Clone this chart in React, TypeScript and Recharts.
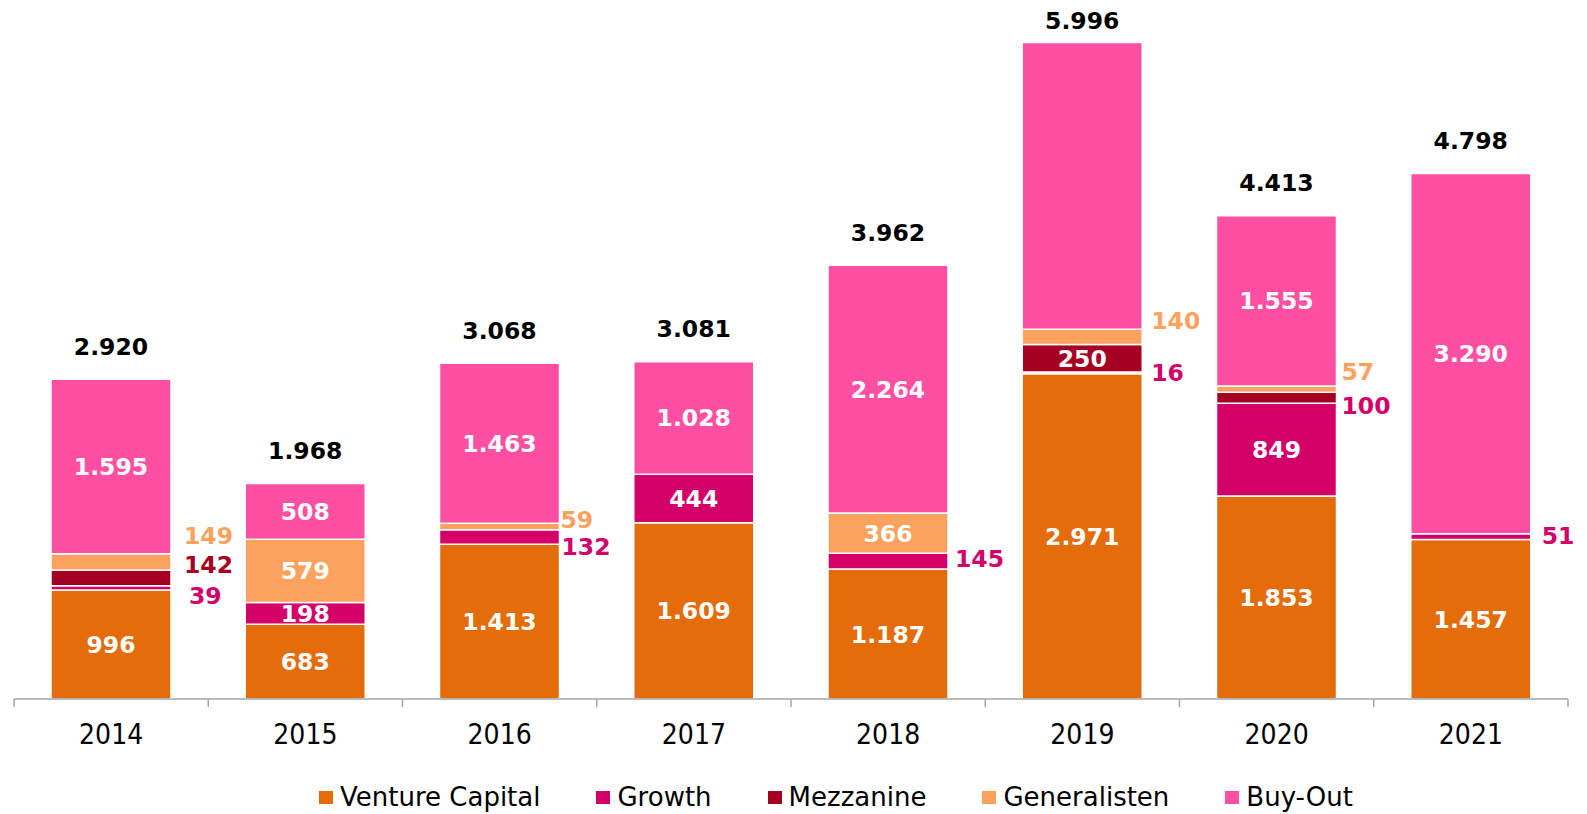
import React from 'react';
import { BarChart, Bar, XAxis, YAxis, LabelList, Legend } from 'recharts';

// ---------- data ----------
const years = ['2014', '2015', '2016', '2017', '2018', '2019', '2020', '2021'];
const ventureCapital = [996, 683, 1413, 1609, 1187, 2971, 1853, 1457];
const growth = [39, 198, 132, 444, 145, 16, 849, 51];
const mezzanine = [142, 0, 0, 0, 0, 250, 100, 0];
const generalisten = [149, 579, 59, 0, 366, 140, 57, 0];
const buyOut = [1595, 508, 1463, 1028, 2264, 2619, 1555, 3290];
const totals = [2920, 1968, 3068, 3081, 3962, 5996, 4413, 4798];

const seriesKeys = ['vc', 'growth', 'mezz', 'gen', 'bo'];
const seriesNames = ['Venture Capital', 'Growth', 'Mezzanine', 'Generalisten', 'Buy-Out'];
const seriesColors = ['#E46C0A', '#D4006A', '#A50021', '#FBA35E', '#FF4FA3'];
const seriesValues = [ventureCapital, growth, mezzanine, generalisten, buyOut];

// labels not shown in the original
const hiddenLabels = ['bo-2019'];
// label colour differing from its series colour in the original
const labelColorOverride: Record<string, string> = { 'mezz-2020': '#D4006A' };

// ---------- layout / style ----------
const W = 1587;
const H = 814;
const MARGIN = { top: 42, right: 19, left: 14, bottom: 15 };
const BAND = (W - MARGIN.left - MARGIN.right) / years.length;
const INSIDE_MIN = 190;
const LABEL_FONT = 23.5;
const FONT = 'DejaVu Sans';

// nudges for labels placed beside the bar: [dx from bar right edge, dy from segment centre]
const outsideNudge: Record<string, [number, number]> = {
  'growth-2014': [18, 8],
  'mezz-2014': [13, -13],
  'gen-2014': [13, -27],
  'growth-2016': [2, 9],
  'gen-2016': [1, -7],
  'growth-2018': [7, -3],
  'gen-2019': [9, -16],
  'growth-2019': [9, 0],
  'gen-2020': [5, -18],
  'mezz-2020': [5, 8],
  'growth-2021': [11, -1],
};

const data = years.map((year, i) => {
  const row: Record<string, any> = { year };
  seriesKeys.forEach((k, s) => {
    row[k] = seriesValues[s][i];
  });
  return row;
});

function fmt(n: number): string {
  if (n >= 1000) {
    const t = Math.floor(n / 1000);
    const r = n % 1000;
    return `${t}.${String(r).padStart(3, '0')}`;
  }
  return String(n);
}

function getBox(props: any) {
  const vb = props.viewBox || {};
  const x = vb.x ?? props.x;
  const y = vb.y ?? props.y;
  const w = vb.width ?? props.width;
  const h = vb.height ?? props.height;
  const top = Math.min(y, y + h);
  return { x: Math.min(x, x + w), top, w: Math.abs(w), h: Math.abs(h) };
}

// category index from the bar's horizontal position
function getIndex(box: { x: number; w: number }) {
  const cx = box.x + box.w / 2;
  return Math.max(0, Math.min(years.length - 1, Math.floor((cx - MARGIN.left) / BAND)));
}

const makeSegmentLabel = (s: number) => (props: any) => {
  const box = getBox(props);
  const i = getIndex(box);
  const v = seriesValues[s][i];
  const key = `${seriesKeys[s]}-${years[i]}`;
  if (!v || hiddenLabels.includes(key)) return null;
  const cy = box.top + box.h / 2;
  if (v >= INSIDE_MIN) {
    return (
      <text
        x={box.x + box.w / 2}
        y={cy + 0.365 * LABEL_FONT}
        textAnchor="middle"
        fill="#ffffff"
        fontFamily={FONT}
        fontWeight="bold"
        fontSize={LABEL_FONT}
      >
        {fmt(v)}
      </text>
    );
  }
  const [dx, dy] = outsideNudge[key] || [8, 0];
  return (
    <text
      x={box.x + box.w + dx}
      y={cy + dy + 0.365 * LABEL_FONT}
      textAnchor="start"
      fill={labelColorOverride[key] || seriesColors[s]}
      fontFamily={FONT}
      fontWeight="bold"
      fontSize={LABEL_FONT}
    >
      {fmt(v)}
    </text>
  );
};

const TotalLabel = (props: any) => {
  const box = getBox(props);
  const i = getIndex(box);
  const cy = Math.max(box.top - 33, 20.5);
  return (
    <text
      x={box.x + box.w / 2}
      y={cy + 0.365 * LABEL_FONT}
      textAnchor="middle"
      fill="#000000"
      fontFamily={FONT}
      fontWeight="bold"
      fontSize={LABEL_FONT}
    >
      {fmt(totals[i])}
    </text>
  );
};

const YearTick = (props: any) => {
  const { x, y, payload, index } = props;
  const half = payload && payload.offset > 0 ? payload.offset : BAND / 2;
  const last = index === years.length - 1;
  return (
    <g>
      <line x1={x - half} x2={x - half} y1={y} y2={y + 8} stroke="#A6A6A6" strokeWidth={1.5} />
      {last && <line x1={x + half} x2={x + half} y1={y} y2={y + 8} stroke="#A6A6A6" strokeWidth={1.5} />}
      <text
        x={x}
        y={y + 45}
        textAnchor="middle"
        fill="#000000"
        fontFamily="DejaVu Sans Condensed"
        fontSize={28}
      >
        {payload.value}
      </text>
    </g>
  );
};

const LegendContent = () => (
  <div
    style={{
      display: 'flex',
      alignItems: 'center',
      height: 40,
      paddingLeft: 319,
      fontFamily: FONT,
      fontSize: 26,
      color: '#000000',
      boxSizing: 'border-box',
    }}
  >
    {seriesNames.map((n, i) => (
      <div key={n} style={{ display: 'flex', alignItems: 'center', marginRight: 56 }}>
        <span
          style={{
            display: 'inline-block',
            width: 14,
            height: 13,
            background: seriesColors[i],
            marginRight: 7,
          }}
        />
        <span style={{ lineHeight: '40px', whiteSpace: 'nowrap' }}>{n}</span>
      </div>
    ))}
  </div>
);

export default function App() {
  return (
    <div style={{ position: 'absolute', left: 0, top: 0, width: W, height: H, background: '#ffffff' }}>
      <BarChart width={W} height={H} data={data} margin={MARGIN} barSize={120}>
        <XAxis
          dataKey="year"
          height={60}
          axisLine={{ stroke: '#A6A6A6', strokeWidth: 1.5 }}
          tickLine={false}
          tickSize={0}
          tickMargin={0}
          interval={0}
          tick={<YearTick />}
        />
        <YAxis hide domain={[0, 6000]} type="number" allowDataOverflow />
        <Legend
          verticalAlign="bottom"
          content={<LegendContent />}
          wrapperStyle={{ top: 777, left: 0, bottom: 'auto', width: W, height: 40, margin: 0, padding: 0 }}
        />
        {seriesKeys.map((k, s) => (
          <Bar
            key={k}
            dataKey={k}
            name={seriesNames[s]}
            stackId="a"
            fill={seriesColors[s]}
            stroke="#ffffff"
            strokeWidth={1.5}
            isAnimationActive={false}
          >
            <LabelList dataKey={k} content={makeSegmentLabel(s)} />
            {k === 'bo' && <LabelList dataKey={k} content={TotalLabel} />}
          </Bar>
        ))}
      </BarChart>
    </div>
  );
}
